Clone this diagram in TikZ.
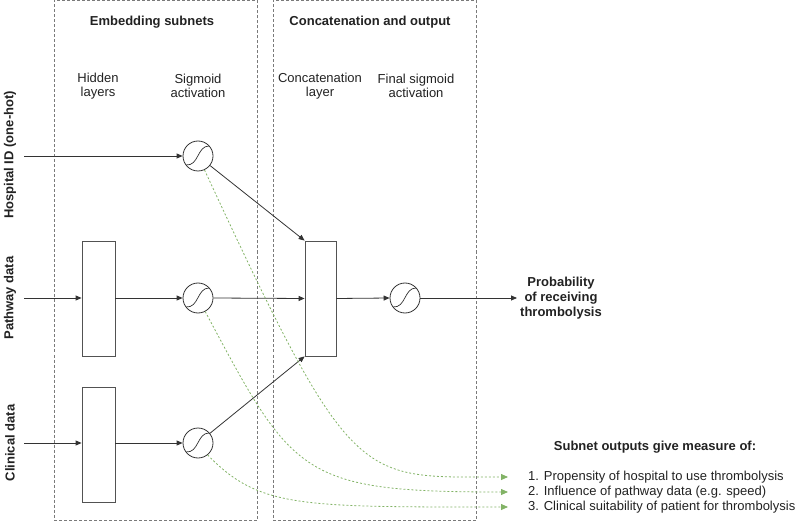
\documentclass[tikz,border=0pt]{standalone}
\usepackage{fontspec}
\setmainfont{Liberation Sans}
\usetikzlibrary{arrows.meta}
\definecolor{ln}{HTML}{333333}
\definecolor{bx}{HTML}{7A7A7A}
\definecolor{gr}{HTML}{82B366}
\definecolor{tx}{HTML}{222222}
\begin{document}
\begin{tikzpicture}[x=1pt,y=-1pt,
  font=\fontsize{13}{14.5}\selectfont,
  grp/.style={draw=bx, line width=0.7pt, dash pattern=on 3pt off 2pt, rectangle, inner sep=0pt},
  layerbox/.style={draw=ln!85, line width=0.8pt, rectangle, inner sep=0pt, minimum width=33pt, minimum height=115pt},
  sig/.style={circle, draw=ln, line width=0.8pt, minimum size=30pt, inner sep=0pt,
    path picture={\draw[line width=0.7pt, ln]
      ([shift={(-12,9)}]path picture bounding box.center) .. controls
      ([shift={(1,10)}]path picture bounding box.center) and
      ([shift={(-1,-10)}]path picture bounding box.center) ..
      ([shift={(11,-10)}]path picture bounding box.center);}},
  conn/.style={draw=ln, line width=0.8pt, -{Triangle[length=6pt,width=5pt]}},
  gconn/.style={draw=gr, line width=0.8pt, dash pattern=on 2pt off 2pt, -{Triangle[length=7pt,width=6pt]}},
  lbl/.style={align=center, text=tx, inner sep=3pt},
  bl/.style={align=center, text=tx, font=\fontsize{13}{15}\selectfont\bfseries, inner sep=3pt},
  item/.style={anchor=west, text=tx, inner sep=3pt}]
\useasboundingbox (0,0) rectangle (800,529);

% group boxes
\node[grp, minimum width=203pt, minimum height=520pt] (emb) at (155.5,260.5) {};
\node[grp, minimum width=203pt, minimum height=520pt] (cat) at (374.5,260.5) {};
\node[bl] (embt) at (152,22) {Embedding subnets};
\node[bl] (catt) at (370,22) {Concatenation and output};

% column labels
\node[lbl] (hlt) at (98,86) {Hidden\\layers};
\node[lbl] (sgt) at (198,86) {Sigmoid\\activation};
\node[lbl] (cct) at (320,86) {Concatenation\\layer};
\node[lbl] (fst) at (416,86) {Final sigmoid\\activation};

% input labels
\node[bl, rotate=90] (hin) at (10,155) {Hospital ID (one-hot)};
\node[bl, rotate=90] (pin) at (10,298) {Pathway data};
\node[bl, rotate=90] (cin) at (10,443) {Clinical data};

\coordinate (h0) at (24,156);
\coordinate (p0) at (24,298);
\coordinate (c0) at (24,443);

% layers
\node[layerbox] (hl2) at (98.5,298.5) {};
\node[layerbox] (hl3) at (98.5,444.5) {};
\node[layerbox, minimum width=31pt] (cc) at (320.5,298.5) {};

% sigmoids
\node[sig] (s1) at (198,156) {};
\node[sig] (s2) at (198,298) {};
\node[sig] (s3) at (198,443) {};
\node[sig] (sf) at (405,298) {};

% output
\node[bl, anchor=west] (prob) at (517,298) {Probability\\of receiving\\thrombolysis};

% connectors
\draw[conn] (h0) -- (s1.west);
\draw[conn] (p0) -- (hl2.west |- p0);
\draw[conn] (hl2.east |- s2) -- (s2.west);
\draw[conn] (c0) -- (hl3.west |- c0);
\draw[conn] (hl3.east |- s3) -- (s3.west);
\draw[conn] (s1) -- (cc.north west);
\draw[conn] (s2.east) -- (cc.west);
\draw[conn] (s3) -- (cc.south west);
\draw[conn] (cc.east) -- (sf.west);
\draw[conn] (sf.east) -- (prob.west);

% subnet outputs
\node[bl] (subt) at (655,447) {Subnet outputs give measure of:};
\node[item] (i1) at (525,477) {1. Propensity of hospital to use thrombolysis};
\node[item] (i2) at (525,492) {2. Influence of pathway data (e.g. speed)};
\node[item] (i3) at (525,507) {3. Clinical suitability of patient for thrombolysis};
\coordinate (e1) at (508,477);
\coordinate (e2) at (508,492);
\coordinate (e3) at (508,507);

\draw[gconn] (s1.-65) .. controls (353,490) and (358,477) .. (e1);
\draw[gconn] (s2.-62) .. controls (293,476) and (300,492) .. (e2);
\draw[gconn] (s3.-51) .. controls (259,508) and (300,507) .. (e3);
\end{tikzpicture}
\end{document}
